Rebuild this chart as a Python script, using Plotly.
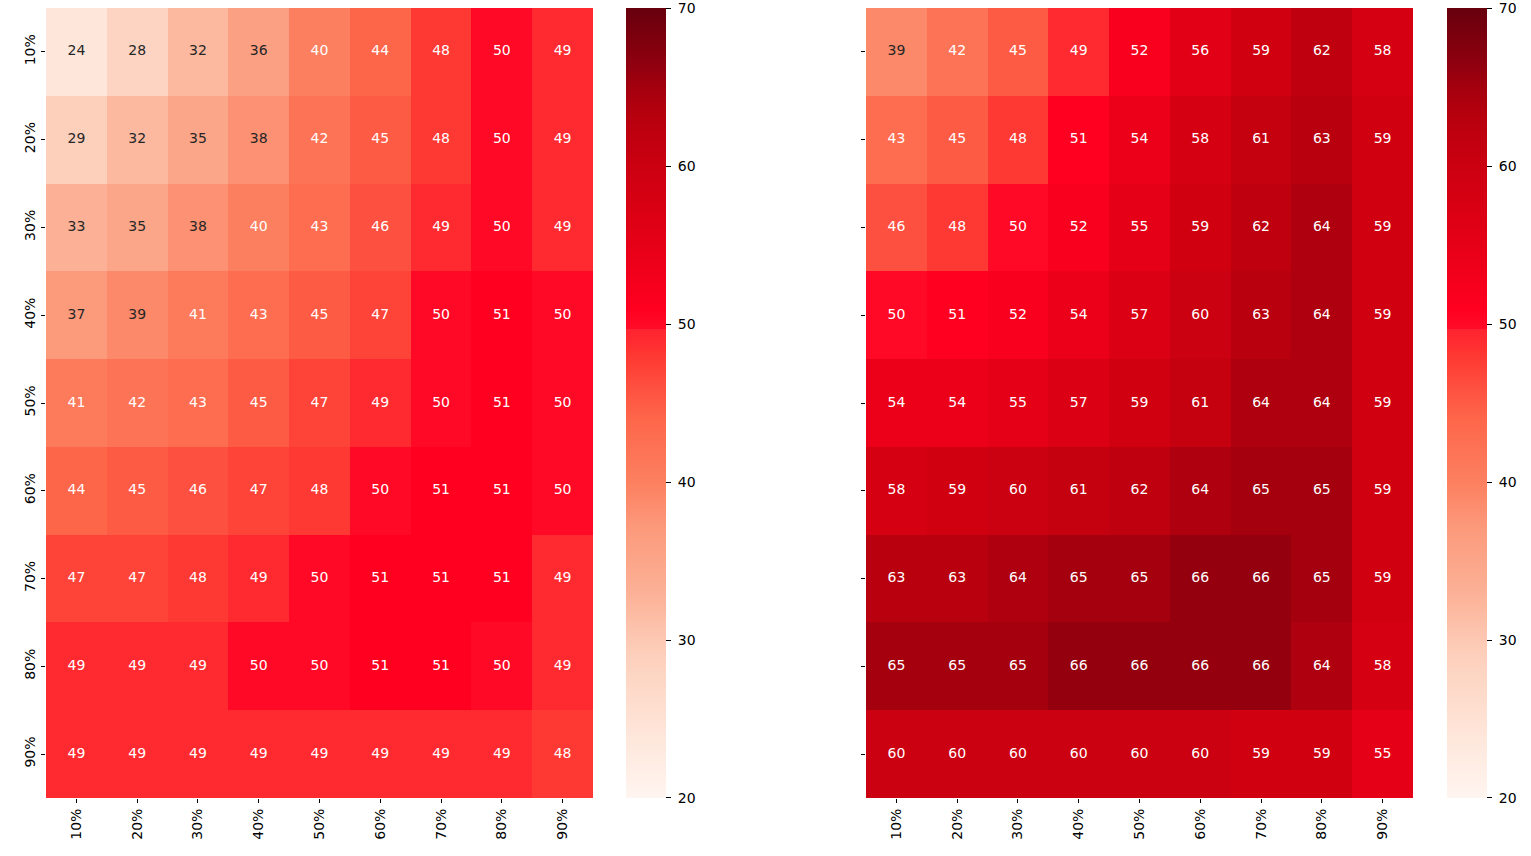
import plotly.graph_objects as go

labels = ["10%", "20%", "30%", "40%", "50%", "60%", "70%", "80%", "90%"]

left_vals = [
    [24, 28, 32, 36, 40, 44, 48, 50, 49],
    [29, 32, 35, 38, 42, 45, 48, 50, 49],
    [33, 35, 38, 40, 43, 46, 49, 50, 49],
    [37, 39, 41, 43, 45, 47, 50, 51, 50],
    [41, 42, 43, 45, 47, 49, 50, 51, 50],
    [44, 45, 46, 47, 48, 50, 51, 51, 50],
    [47, 47, 48, 49, 50, 51, 51, 51, 49],
    [49, 49, 49, 50, 50, 51, 51, 50, 49],
    [49, 49, 49, 49, 49, 49, 49, 49, 48],
]

right_vals = [
    [39, 42, 45, 49, 52, 56, 59, 62, 58],
    [43, 45, 48, 51, 54, 58, 61, 63, 59],
    [46, 48, 50, 52, 55, 59, 62, 64, 59],
    [50, 51, 52, 54, 57, 60, 63, 64, 59],
    [54, 54, 55, 57, 59, 61, 64, 64, 59],
    [58, 59, 60, 61, 62, 64, 65, 65, 59],
    [63, 63, 64, 65, 65, 66, 66, 65, 59],
    [65, 65, 65, 66, 66, 66, 66, 64, 58],
    [60, 60, 60, 60, 60, 60, 59, 59, 55],
]

cbar_ticks = [20, 30, 40, 50, 60, 70]
zmin, zmax = 20, 70

# custom red map, hard step at 50
stops = [
    (20, "#fff5f0"), (24, "#fee6da"), (29, "#fdd0bc"), (33, "#fcb196"),
    (37, "#fc9a7c"), (40, "#fc8060"), (44, "#fe664a"), (46, "#fe5040"),
    (48, "#fe3832"), (49, "#ff2a30"), (49.7, "#ff2430"), (49.71, "#ff0c28"),
    (51, "#ff0020"), (55, "#e60017"), (60, "#cb0010"), (63, "#b8000e"),
    (65, "#a4000e"), (66, "#95000f"), (70, "#67000d"),
]
colorscale = [[(v - zmin) / (zmax - zmin), c] for v, c in stops]

W, H = 1531, 856
y_top, y_bot = 8, 798
panels = [
    dict(vals=left_vals, x0=46, x1=593, cb=626, show_y=True),
    dict(vals=right_vals, x0=866, x1=1413, cb=1447, show_y=False),
]

# nudge the end ticks inside the bar so plotly keeps them
tick_pos = [min(max(t, zmin + 0.01), zmax - 0.01) for t in cbar_ticks]

fig = go.Figure()
for i, p in enumerate(panels, start=1):
    xa = "x" if i == 1 else "x%d" % i
    ya = "y" if i == 1 else "y%d" % i
    fig.add_trace(go.Heatmap(
        z=p["vals"], x=labels, y=labels, xaxis=xa, yaxis=ya,
        zmin=zmin, zmax=zmax, colorscale=colorscale,
        colorbar=dict(
            x=p["cb"] / W, xanchor="left", xpad=0, ypad=0,
            y=1 - y_top / H, yanchor="top", len=(y_bot - y_top) / H,
            thickness=40, outlinewidth=0,
            tickvals=tick_pos, ticktext=["\u00a0" + str(t) for t in cbar_ticks],
            ticks="outside", ticklen=5, tickwidth=1, tickcolor="black",
            tickfont=dict(size=14, color="black"),
        ),
    ))
    xs, ys, txt, cols = [], [], [], []
    for r, row in enumerate(p["vals"]):
        for c, v in enumerate(row):
            xs.append(labels[c])
            ys.append(labels[r])
            txt.append(str(v))
            cols.append("#262626" if v < 40 else "white")
    fig.add_trace(go.Scatter(
        x=xs, y=ys, text=txt, mode="text", xaxis=xa, yaxis=ya,
        textfont=dict(size=14, color=cols, family="DejaVu Sans"),
        hoverinfo="skip", showlegend=False,
    ))
    fig.layout["xaxis" if i == 1 else "xaxis%d" % i] = dict(
        domain=[p["x0"] / W, p["x1"] / W], anchor=ya,
        tickangle=-90, ticks="outside", ticklen=4, tickcolor="black",
        tickfont=dict(size=14, color="black"), showgrid=False, zeroline=False,
    )
    fig.layout["yaxis" if i == 1 else "yaxis%d" % i] = dict(
        domain=[1 - y_bot / H, 1 - y_top / H], anchor=xa,
        autorange="reversed", tickangle=-90, ticks="outside", ticklen=4,
        tickcolor="black", showticklabels=p["show_y"],
        tickfont=dict(size=14, color="black"), showgrid=False, zeroline=False,
    )

fig.update_layout(
    width=W, height=H, margin=dict(l=0, r=0, t=0, b=0),
    paper_bgcolor="white", plot_bgcolor="white",
    font=dict(family="DejaVu Sans", color="black"),
    showlegend=False,
)

# drop the browser's default body margin so figure px == screen px
fig.write_html("out.html", config={"displayModeBar": False},
               post_script="document.body.style.margin='0';")
